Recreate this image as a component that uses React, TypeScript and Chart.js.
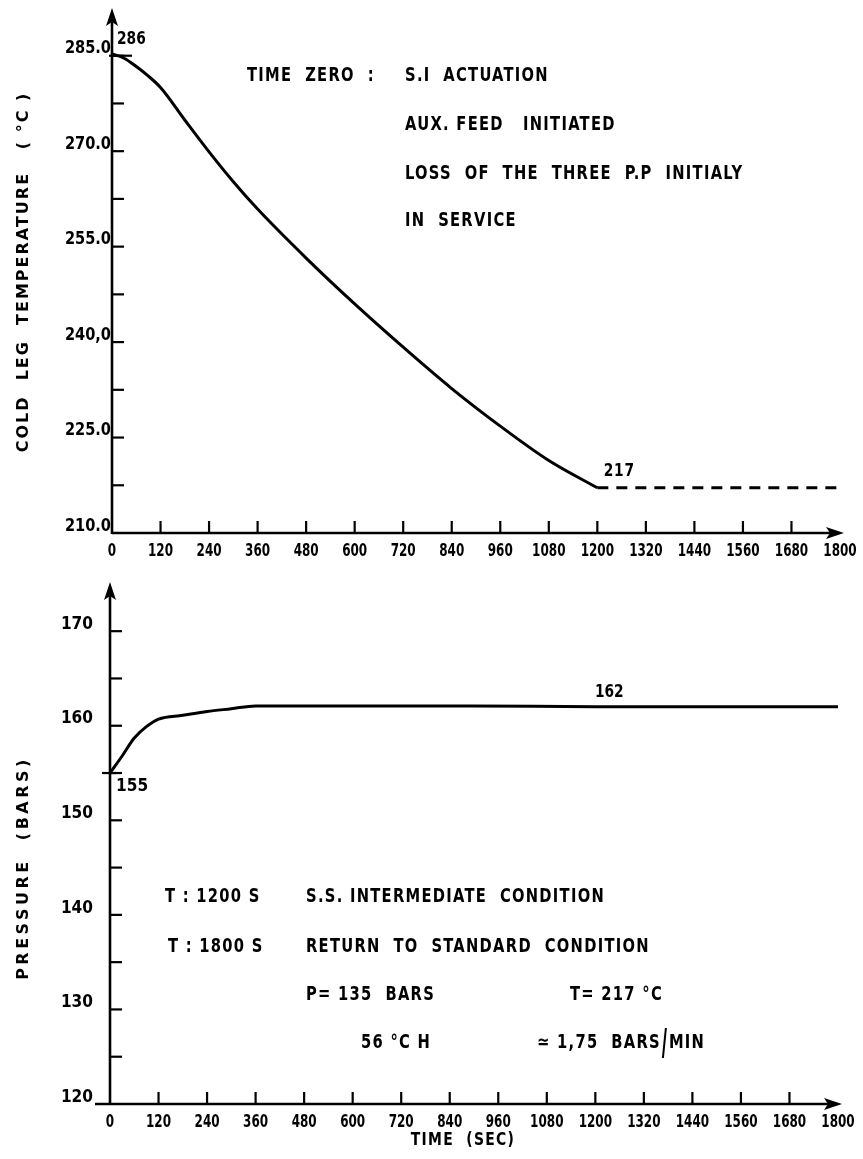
import { useEffect, useRef } from "react";
import { Chart, registerables } from "chart.js";

Chart.register(...registerables);

// ---------- data ----------
const timeLabelValues = [0, 120, 240, 360, 480, 600, 720, 840, 960, 1080, 1200, 1320, 1440, 1560, 1680, 1800];
const timeTickLabels = ["0", "120", "240", "360", "480", "600", "720", "840", "960", "1080", "1200", "1320", "1440", "1560", "1680", "1800"];
const timeTickMarks = [120, 240, 360, 480, 600, 720, 840, 960, 1080, 1200, 1320, 1440, 1560, 1680];

const tempMajorTicks = [210, 225, 240, 255, 270, 285];
const tempTickLabels = ["210.0", "225.0", "240,0", "255.0", "270.0", "285.0"];
const tempMinorTicks = [217.5, 232.5, 247.5, 262.5, 277.5];

const tempTime = [0, 30, 60, 90, 120, 180, 240, 300, 360, 480, 600, 720, 840, 960, 1080, 1200];
const tempValues = [285.3, 284.6, 283.3, 281.8, 280.0, 274.9, 269.9, 265.2, 260.9, 253.2, 246.0, 239.2, 232.7, 226.8, 221.4, 217.1];
const tempHoldTime = [1200, 1800];
const tempHoldValues = [217.1, 217.1];

const pressMajorTicks = [120, 130, 140, 150, 160, 170];
const pressTickLabels = ["120", "130", "140", "150", "160", "170"];
const pressMinorTicks = [125, 135, 145, 155, 165];

const pressTime = [0, 30, 60, 90, 120, 180, 240, 300, 360, 600, 900, 1200, 1500, 1800];
const pressValues = [155, 156.8, 158.7, 159.9, 160.7, 161.1, 161.5, 161.8, 162.1, 162.1, 162.1, 162.0, 162.0, 162.0];

// ---------- styles ----------
const COND = '"DejaVu Sans Condensed", "DejaVu Sans", sans-serif';
const NUM_FONT = `bold 18px ${COND}`;
const XNUM_FONT = `bold 18px ${COND}`;
const NOTE_FONT = `bold 19px ${COND}`;
const TITLE_FONT = 'bold 16px "DejaVu Sans", sans-serif';

function pts(xs: number[], ys: number[]) {
  return xs.map((x, i) => ({ x, y: ys[i] }));
}

function drawArrow(ctx: CanvasRenderingContext2D, x: number, y: number, dir: "up" | "right") {
  ctx.beginPath();
  if (dir === "up") {
    ctx.moveTo(x, y);
    ctx.lineTo(x - 6, y + 18);
    ctx.lineTo(x, y + 14);
    ctx.lineTo(x + 6, y + 18);
  } else {
    ctx.moveTo(x, y);
    ctx.lineTo(x - 18, y - 6);
    ctx.lineTo(x - 14, y);
    ctx.lineTo(x - 18, y + 6);
  }
  ctx.closePath();
  ctx.fill();
}

function text(
  ctx: CanvasRenderingContext2D,
  s: string,
  x: number,
  y: number,
  font: string,
  align: CanvasTextAlign = "left",
  spacing = "0px",
  sx = 1
) {
  ctx.save();
  ctx.translate(x, y);
  ctx.scale(sx, 1);
  ctx.font = font;
  (ctx as any).letterSpacing = spacing;
  ctx.textAlign = align;
  ctx.textBaseline = "middle";
  ctx.fillText(s, 0, 0);
  const w = ctx.measureText(s).width * sx;
  ctx.restore();
  return w;
}

type FrameOpts = {
  yMin: number;
  yMax: number;
  major: number[];
  minor: number[];
  labels: string[];
  labelRight: number;
  labelDy: number;
  labelSx: number;
  xAxisLeft: number;
};

function drawFrame(chart: Chart, o: FrameOpts) {
  const ctx = chart.ctx;
  const xs = chart.scales.x;
  const ys = chart.scales.y;
  const x0 = xs.getPixelForValue(0);
  const y0 = ys.getPixelForValue(o.yMin);
  const yTop = ys.getPixelForValue(o.yMax);
  const xEnd = xs.getPixelForValue(1800) + 4;
  ctx.save();
  ctx.strokeStyle = "#000";
  ctx.fillStyle = "#000";
  ctx.lineWidth = 2.6;
  ctx.beginPath();
  ctx.moveTo(x0, y0 + 1);
  ctx.lineTo(x0, yTop + 12);
  ctx.stroke();
  drawArrow(ctx, x0, yTop, "up");
  ctx.beginPath();
  ctx.moveTo(x0 - o.xAxisLeft, y0);
  ctx.lineTo(xEnd - 12, y0);
  ctx.stroke();
  drawArrow(ctx, xEnd, y0, "right");

  ctx.lineWidth = 2.2;
  for (const v of [...o.major, ...o.minor]) {
    if (v === o.yMin) continue;
    const py = ys.getPixelForValue(v);
    ctx.beginPath();
    ctx.moveTo(x0, py);
    ctx.lineTo(x0 + 12, py);
    ctx.stroke();
  }
  for (const t of timeTickMarks) {
    const px = xs.getPixelForValue(t);
    ctx.beginPath();
    ctx.moveTo(px, y0);
    ctx.lineTo(px, y0 - 12);
    ctx.stroke();
  }
  o.major.forEach((v, i) => {
    const py = ys.getPixelForValue(v);
    text(ctx, o.labels[i], x0 - o.labelRight, py + o.labelDy, NUM_FONT, "right", "0px", o.labelSx);
  });
  timeLabelValues.forEach((t, i) => {
    const px = xs.getPixelForValue(t);
    text(ctx, timeTickLabels[i], px, y0 + 18, XNUM_FONT, "center", "0px", 0.74);
  });
  ctx.restore();
}

const topPlugin = {
  id: "topFrame",
  afterDraw(chart: Chart) {
    drawFrame(chart, {
      yMin: 210,
      yMax: 292.5,
      major: tempMajorTicks,
      minor: tempMinorTicks,
      labels: tempTickLabels,
      labelRight: 1,
      labelDy: -7,
      labelSx: 0.9,
      xAxisLeft: 0,
    });
    const ctx = chart.ctx;
    const xs = chart.scales.x;
    const ys = chart.scales.y;
    ctx.save();
    ctx.fillStyle = "#000";
    ctx.strokeStyle = "#000";
    ctx.lineWidth = 2.2;
    const p285 = ys.getPixelForValue(285);
    const x0 = xs.getPixelForValue(0);
    ctx.beginPath();
    ctx.moveTo(x0 - 3, p285);
    ctx.lineTo(x0 + 20, p285);
    ctx.stroke();
    text(ctx, "286", x0 + 5, p285 - 16, NUM_FONT, "left", "0px", 0.85);
    text(ctx, "217", xs.getPixelForValue(1200) + 22, ys.getPixelForValue(217.1) - 16, NUM_FONT, "center", "1px", 0.85);
    // notes
    const sp = "1.5px";
    const sx = 0.86;
    text(ctx, "TIME  ZERO  :", 247, 76, NOTE_FONT, "left", sp, sx);
    text(ctx, "S.I  ACTUATION", 405, 76, NOTE_FONT, "left", sp, sx);
    text(ctx, "AUX. FEED   INITIATED", 405, 125, NOTE_FONT, "left", sp, sx);
    text(ctx, "LOSS  OF  THE  THREE  P.P  INITIALY", 405, 174, NOTE_FONT, "left", sp, sx);
    text(ctx, "IN  SERVICE", 405, 221, NOTE_FONT, "left", sp, sx);
    // y title
    ctx.translate(24, 272);
    ctx.rotate(-Math.PI / 2);
    text(ctx, "COLD  LEG  TEMPERATURE   ( °C )", 0, 0, TITLE_FONT, "center", "2px");
    ctx.restore();
  },
};

const bottomPlugin = {
  id: "bottomFrame",
  afterDraw(chart: Chart) {
    drawFrame(chart, {
      yMin: 120,
      yMax: 175.2,
      major: pressMajorTicks,
      minor: pressMinorTicks,
      labels: pressTickLabels,
      labelRight: 17,
      labelDy: -7,
      labelSx: 0.95,
      xAxisLeft: 15,
    });
    const ctx = chart.ctx;
    const xs = chart.scales.x;
    const ys = chart.scales.y;
    const x0 = xs.getPixelForValue(0);
    ctx.save();
    ctx.fillStyle = "#000";
    ctx.strokeStyle = "#000";
    ctx.lineWidth = 2.2;
    const p155 = ys.getPixelForValue(155);
    ctx.beginPath();
    ctx.moveTo(x0 - 8, p155);
    ctx.lineTo(x0 + 6, p155);
    ctx.stroke();
    text(ctx, "155", x0 + 6, p155 + 13, NUM_FONT, "left", "0px", 0.95);
    text(ctx, "162", xs.getPixelForValue(1200) + 14, ys.getPixelForValue(162.1) - 14, NUM_FONT, "center", "0px", 0.85);

    const sp = "1.5px";
    const sx = 0.86;
    text(ctx, "T : 1200 S", 165, 332, NOTE_FONT, "left", sp, sx);
    text(ctx, "S.S. INTERMEDIATE  CONDITION", 306, 332, NOTE_FONT, "left", sp, sx);
    text(ctx, "T : 1800 S", 168, 382, NOTE_FONT, "left", sp, sx);
    text(ctx, "RETURN  TO  STANDARD  CONDITION", 306, 382, NOTE_FONT, "left", sp, sx);
    text(ctx, "P= 135  BARS", 306, 430, NOTE_FONT, "left", sp, sx);
    text(ctx, "T= 217 °C", 570, 430, NOTE_FONT, "left", sp, sx);
    text(ctx, "56 °C H", 361, 478, NOTE_FONT, "left", sp, sx);
    const w1 = text(ctx, "≃ 1,75  BARS", 537, 478, NOTE_FONT, "left", sp, sx);
    ctx.lineWidth = 2;
    ctx.beginPath();
    ctx.moveTo(537 + w1 + 2, 493);
    ctx.lineTo(537 + w1 + 5, 463);
    ctx.stroke();
    text(ctx, "MIN", 537 + w1 + 8, 478, NOTE_FONT, "left", sp, sx);

    text(ctx, "TIME  (SEC)", 463, 575, `bold 18px ${COND}`, "center", "1.5px", 0.86);

    ctx.translate(24, 303);
    ctx.rotate(-Math.PI / 2);
    text(ctx, "PRESSURE  (BARS)", 0, 0, TITLE_FONT, "center", "3.5px");
    ctx.restore();
  },
};

function baseOptions(yMin: number, yMax: number, padding: any) {
  return {
    responsive: false,
    animation: false as const,
    devicePixelRatio: 1,
    layout: { padding },
    plugins: { legend: { display: false }, tooltip: { enabled: false } },
    elements: { point: { radius: 0 } },
    scales: {
      x: { type: "linear" as const, min: 0, max: 1800, display: false },
      y: { type: "linear" as const, min: yMin, max: yMax, display: false },
    },
  };
}

export default function App() {
  const topRef = useRef<HTMLCanvasElement>(null);
  const botRef = useRef<HTMLCanvasElement>(null);

  useEffect(() => {
    const top = new Chart(topRef.current!, {
      type: "line",
      data: {
        datasets: [
          {
            data: pts(tempTime, tempValues),
            borderColor: "#000",
            borderWidth: 3,
            cubicInterpolationMode: "monotone",
            fill: false,
          },
          {
            data: pts(tempHoldTime, tempHoldValues),
            borderColor: "#000",
            borderWidth: 3,
            borderDash: [11, 8],
            fill: false,
          },
        ],
      },
      options: baseOptions(210, 292.5, { left: 112, right: 23, top: 8, bottom: 32 }) as any,
      plugins: [topPlugin as any],
    });
    const bot = new Chart(botRef.current!, {
      type: "line",
      data: {
        datasets: [
          {
            data: pts(pressTime, pressValues),
            borderColor: "#000",
            borderWidth: 3,
            cubicInterpolationMode: "monotone",
            fill: false,
          },
        ],
      },
      options: baseOptions(120, 175.2, { left: 110, right: 25, top: 17, bottom: 55 }) as any,
      plugins: [bottomPlugin as any],
    });
    return () => {
      top.destroy();
      bot.destroy();
    };
  }, []);

  return (
    <div style={{ position: "absolute", left: 0, top: 0, width: 863, height: 1159, background: "#fff" }}>
      <canvas ref={topRef} width={863} height={565} style={{ position: "absolute", left: 0, top: 0, width: 863, height: 565 }} />
      <canvas ref={botRef} width={863} height={594} style={{ position: "absolute", left: 0, top: 565, width: 863, height: 594 }} />
    </div>
  );
}
